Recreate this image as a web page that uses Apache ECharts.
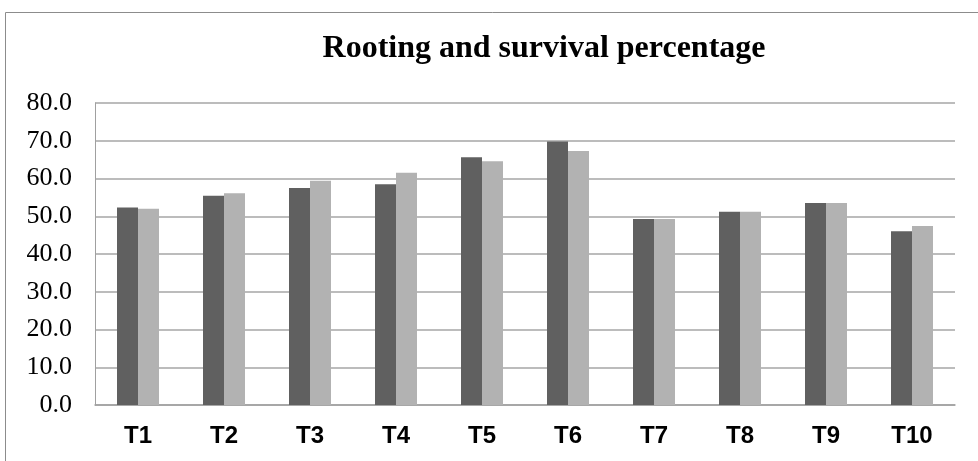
<!DOCTYPE html>
<html><head><meta charset="utf-8">
<script src="https://cdn.jsdelivr.net/npm/echarts@6/dist/echarts.min.js"></script>
<style>html,body{margin:0;padding:0;background:#fff}#c{width:978px;height:461px}</style>
</head><body><div id="c"></div>
<script>
const categories = ['T1','T2','T3','T4','T5','T6','T7','T8','T9','T10'];
const rooting = [52.3, 55.4, 57.5, 58.5, 65.6, 69.8, 49.3, 51.2, 53.5, 46.0];
const survival = [52.0, 56.1, 59.4, 61.5, 64.6, 67.3, 49.3, 51.2, 53.5, 47.4];
const yTicks = {min: 0, max: 80, interval: 10};
const chart = echarts.init(document.getElementById('c'));
chart.setOption({
  animation: false,
  graphic: [{type:'rect', shape:{x:5.5, y:12.5, width:1000, height:500}, style:{fill:'none', stroke:'#8c8c8c', lineWidth:1}}],
  title: {text:'Rooting and survival percentage', left:539, textAlign:'center', top:28,
    textStyle:{fontFamily:'Liberation Serif', fontWeight:'bold', fontSize:32, color:'#000'}},
  grid: {left:95, right:23, top:103, bottom:56},
  xAxis: {type:'category', data:categories,
    axisLine:{show:true, lineStyle:{color:'#a0a0a0', width:1.5}},
    axisTick:{show:false},
    axisLabel:{margin:19, fontFamily:'Liberation Sans', fontWeight:'bold', fontSize:24, color:'#000'}},
  yAxis: {type:'value', min:yTicks.min, max:yTicks.max, interval:yTicks.interval,
    axisLine:{show:true, lineStyle:{color:'#a0a0a0', width:1}},
    axisTick:{show:false},
    splitLine:{lineStyle:{color:'#a6a6a6', width:1.5}},
    axisLabel:{margin:23, fontFamily:'Liberation Serif', fontSize:26, color:'#000', formatter:v=>v.toFixed(1)}},
  series: [
    {type:'bar', data:rooting, barWidth:21, barGap:'0%', itemStyle:{color:'#606060'}},
    {type:'bar', data:survival, barWidth:21, barGap:'0%', itemStyle:{color:'#b2b2b2'}}
  ]
});
</script></body></html>
